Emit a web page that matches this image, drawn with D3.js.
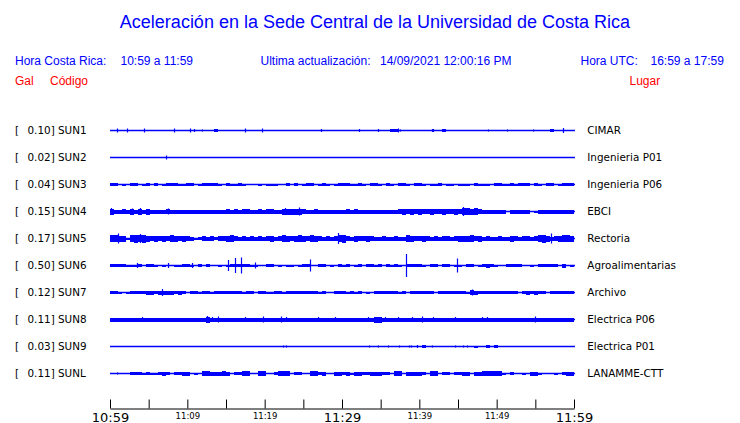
<!DOCTYPE html>
<html>
<head>
<meta charset="utf-8">
<script src="https://cdn.jsdelivr.net/npm/d3@7"></script>
<style>
  html, body { margin: 0; padding: 0; background: #fff; }
  svg { display: block; }
</style>
</head>
<body>
<svg id="grafica" width="740" height="423"></svg>
<script>
// Estaciones
const codigos = ["SUN1", "SUN2", "SUN3", "SUN4", "SUN5", "SUN6", "SUN7", "SUN8", "SUN9", "SUNL"];
const lugares = ["CIMAR", "Ingenieria P01", "Ingenieria P06", "EBCI", "Rectoria", "Agroalimentarias",
                 "Archivo", "Electrica P06", "Electrica P01", "LANAMME-CTT"];
const gal = ["0.10", "0.02", "0.04", "0.15", "0.17", "0.50", "0.12", "0.11", "0.03", "0.11"];
const etiquetasTiempo = ["10:59", "11:09", "11:19", "11:29", "11:39", "11:49", "11:59"];
const minutosMarca = [0, 5, 10, 15, 20, 25, 30, 35, 40, 45, 50, 55, 60];

// envolvente de cada traza (amplitud pico a pico, 116 muestras en 60 min)
const envSUN1 = [0,0,0,0,0,0,0,0,0,0, 0,0,0,0,0,0,0,0,0,0, 0,0,0,0,0,0,3,0,0,0, 0,0,0,0,0,0,0,0,0,0,
  0,0,0,0,0,0,0,0,0,0, 0,0,0,0,0,0,0,0,0,0, 0,0,0,0,0,0,0,0,0,0, 3,3,0,0,0,0,0,0,0,0,
  0,0,0,3,0,0,0,0,0,0, 0,0,0,0,0,0,0,0,0,0, 0,0,0,0,0,0,0,0,0,0, 3,0,0,0,0,0];
const envSUN2 = [0,0,0,0,0,0,0,0,0,0, 0,0,0,0,0,0,0,0,0,0, 0,0,0,0,0,0,0,0,0,0, 0,0,0,0,0,0,0,0,0,0,
  0,0,0,0,0,0,0,0,0,0, 0,0,0,0,0,0,0,0,0,0, 0,0,0,0,0,0,0,0,0,0, 0,0,0,0,0,0,0,0,0,0,
  0,0,0,0,0,0,0,0,0,0, 0,0,0,0,0,0,0,0,0,0, 0,0,0,0,0,0,0,0,0,0, 0,0,0,0,0,0];
const envSUN3 = [3,3,1,2,1,3,3,0,2,3, 0,3,0,2,3,3,3,2,2,3, 3,0,2,3,3,3,3,2,1,3, 2,2,3,2,0,0,0,2,0,2,
  2,2,0,0,3,0,3,0,2,3, 3,0,2,3,2,0,2,3,3,3, 2,2,3,2,0,3,3,2,0,3, 2,0,3,3,2,0,3,3,2,0,
  2,2,3,0,2,2,0,2,2,2, 0,3,2,2,2,0,3,3,2,2, 3,2,3,3,3,0,3,2,0,3, 3,0,2,3,3,3];
const envSUN4 = [6,4,4,5,4,6,4,6,4,6, 4,4,4,4,5,4,4,4,4,4, 4,4,4,4,4,4,4,4,4,5, 4,5,4,5,5,4,4,5,4,5,
  5,4,4,6,6,6,6,6,5,4, 4,5,4,4,4,4,4,4,4,5, 4,5,4,4,4,4,4,4,4,4, 4,4,5,6,5,6,5,6,5,5,
  6,5,5,6,5,5,6,5,7,7, 6,7,5,4,4,4,4,4,4,1, 4,4,4,4,4,1,2,4,4,4, 4,4,4,4,4,4];
const envSUN5 = [7,7,6,6,2,7,8,7,8,6, 5,6,5,6,5,7,6,5,6,5, 4,2,3,5,4,5,3,5,5,6, 7,5,4,5,4,5,4,5,4,5,
  6,4,5,7,6,5,6,7,6,5, 7,6,5,4,5,4,5,7,8,5, 4,6,5,5,6,5,4,4,5,4, 4,5,4,4,7,6,5,5,6,5,
  4,5,4,5,5,4,5,6,6,6, 7,5,6,4,5,4,4,5,4,4, 6,5,4,5,5,4,5,7,8,6, 4,5,6,7,7,6];
const envSUN6 = [3,3,3,3,2,2,2,3,0,3, 3,2,0,2,0,0,2,2,3,3, 2,0,3,0,3,0,0,2,0,2, 3,3,3,3,3,2,2,0,0,3,
  3,0,2,0,2,2,0,2,3,3, 0,0,3,3,0,2,0,3,2,3, 0,2,3,0,3,3,2,3,0,3, 2,3,2,0,3,3,3,3,2,0,
  3,3,0,3,3,0,2,2,0,3, 3,0,2,3,4,3,2,0,0,3, 3,3,3,0,0,2,0,3,3,3, 3,3,0,4,0,2];
const envSUN7 = [3,3,2,0,2,3,3,3,3,4, 4,3,4,4,4,4,3,4,3,0, 3,3,2,3,3,2,3,3,3,3, 3,3,3,2,3,3,0,3,3,2,
  2,3,3,2,3,3,3,3,3,3, 3,3,2,3,0,0,3,3,3,2, 3,2,3,0,2,0,3,3,3,3, 3,3,2,3,0,3,3,3,3,3,
  3,0,3,3,3,3,3,3,3,2, 5,4,3,3,3,3,3,3,3,3, 3,3,0,3,4,3,4,3,3,0, 3,3,3,3,3,3];
const envSUN8 = [4,4,4,4,4,4,4,4,4,4, 4,4,4,4,4,4,4,4,4,4, 4,4,4,4,6,4,4,4,4,4, 4,4,4,4,4,4,4,4,4,4,
  4,4,4,4,4,4,4,4,4,4, 4,4,4,4,4,4,4,4,4,4, 4,4,4,4,4,4,6,6,4,4, 4,4,4,4,4,4,4,4,4,4,
  4,4,4,4,4,4,4,4,4,4, 4,4,4,4,4,4,4,4,4,4, 4,4,4,4,4,4,4,4,4,4, 4,4,4,4,4,4];
const envSUN9 = [0,0,0,0,0,0,0,0,0,0, 0,0,0,0,0,0,0,0,0,0, 0,0,0,0,0,0,0,0,0,0, 0,0,0,0,0,0,0,0,0,0,
  0,0,0,0,0,0,0,0,0,0, 0,0,0,0,0,0,0,0,0,0, 0,0,0,0,0,0,0,0,0,0, 0,0,0,0,0,0,0,0,3,0,
  0,0,0,0,0,0,0,0,0,0, 0,2,0,0,3,0,3,0,0,0, 0,0,0,0,0,0,0,0,0,0, 0,0,0,0,0,0];
const envSUNL = [0,0,0,0,0,3,3,3,2,3, 2,2,3,4,3,0,3,3,4,4, 0,2,0,5,5,4,4,4,5,4, 0,3,3,5,5,0,0,5,5,0,
  0,3,5,5,5,0,3,3,0,0, 5,5,3,4,0,0,4,4,3,4, 2,4,4,3,3,4,4,4,3,3, 0,5,5,0,4,4,4,4,3,0,
  5,5,0,3,3,0,3,3,4,4, 0,4,4,5,5,5,5,5,2,0, 3,0,0,2,0,4,4,2,0,0, 0,2,0,3,4,4];

// picos aislados: [minuto, amplitud]
const picosSUN1 = [[0.9,4],[2.2,4],[4.4,4],[8.3,4],[10.4,4],[10.8,3],[11.9,2],[17.4,4],[19.7,4],[27.3,3],
  [32.2,3],[34.7,3],[37.2,4],[37.5,2],[41.6,3],[41.8,3],[48.9,2],[51.4,2],[54.7,2],[58.6,5]];
const picosSUN2 = [[7.3,4]];
const picosSUN3 = [];
const picosSUN4 = [[0.1,7],[2.9,6],[3.9,7],[7.5,6],[22.6,7],[24.4,8],[45.7,9]];
const picosSUN5 = [[1.0,10],[3.9,9],[29.5,11],[57.0,10]];
const picosSUN6 = [[3.5,5],[7.5,5],[10.6,5],[15.3,11],[16.1,15],[16.9,16],[18.7,6],[25.9,12],[38.3,23],[44.9,14]];
const picosSUN7 = [[6.7,7],[46.8,6]];
const picosSUN8 = [[4.1,5],[12.5,7],[13.2,5],[14.0,6],[17.4,5],[19.8,6],[22.1,6],[22.8,5],[26.9,5],[29.1,5],
  [33.4,5],[35.6,5],[37.3,5],[39.0,5],[40.3,6],[41.8,5],[44.6,5],[48.1,5],[48.8,5],[55.0,6]];
const picosSUN9 = [[22.4,2],[22.8,2],[33.5,2],[34.7,2],[35.9,2],[37.4,2],[38.6,2],[38.9,2],[39.7,3],
  [41.6,2],[44.6,2],[45.7,2],[46.1,2]];
const picosSUNL = [[0.9,2]];

const envolventes = [envSUN1, envSUN2, envSUN3, envSUN4, envSUN5, envSUN6, envSUN7, envSUN8, envSUN9, envSUNL];
const picos = [picosSUN1, picosSUN2, picosSUN3, picosSUN4, picosSUN5, picosSUN6, picosSUN7, picosSUN8, picosSUN9, picosSUNL];

const azul = "#0000ff";
const svg = d3.select("#grafica");

const x = d3.scaleLinear().domain([0, 60]).range([110, 574]);
const fila = d3.scalePoint().domain(codigos).range([130.5, 373.5]);
const amp = d3.scaleLinear().domain([0, 24]).range([0, 24]);
const paso = 60 / envSUN1.length;

// Titulo y encabezados
svg.append("text")
  .attr("x", 375).attr("y", 28)
  .attr("text-anchor", "middle")
  .attr("font-family", "Liberation Sans, Arial, sans-serif")
  .attr("font-size", 18)
  .attr("fill", azul)
  .text("Aceleración en la Sede Central de la Universidad de Costa Rica");

const encabezado = [
  ["Hora Costa Rica:", 15, 65, azul],
  ["10:59 a 11:59", 120.5, 65, azul],
  ["Ultima actualización:", 260.5, 65, azul],
  ["14/09/2021 12:00:16 PM", 380, 65, azul],
  ["Hora UTC:", 580.5, 65, azul],
  ["16:59 a 17:59", 650.5, 65, azul],
  ["Gal", 15, 84.5, "#ff0000"],
  ["Código", 50, 84.5, "#ff0000"],
  ["Lugar", 629.5, 84.5, "#ff0000"]
];
svg.selectAll("text.enc")
  .data(encabezado)
  .join("text")
  .attr("class", "enc")
  .attr("x", d => d[1]).attr("y", d => d[2])
  .attr("font-family", "Liberation Sans, Arial, sans-serif")
  .attr("font-size", 12)
  .attr("fill", d => d[3])
  .text(d => d[0]);

// Trazas
codigos.forEach((c, k) => {
  const g = svg.append("g").attr("transform", `translate(0,${fila(c)})`);

  g.append("line")
    .attr("x1", x(0)).attr("x2", x(60) + 1)
    .attr("y1", 0).attr("y2", 0)
    .attr("stroke", azul).attr("stroke-width", 1.3);

  g.selectAll("rect")
    .data(envolventes[k].map((v, i) => ({ v, i })).filter(d => d.v > 0))
    .join("rect")
    .attr("x", d => x(d.i * paso))
    .attr("width", x(paso) - x(0))
    .attr("y", d => -amp(d.v) / 2)
    .attr("height", d => amp(d.v))
    .attr("fill", azul)
    .attr("shape-rendering", "crispEdges");

  g.selectAll("line.pico")
    .data(picos[k])
    .join("line")
    .attr("class", "pico")
    .attr("x1", d => Math.round(x(d[0])) + 0.5).attr("x2", d => Math.round(x(d[0])) + 0.5)
    .attr("y1", d => -amp(d[1]) / 2).attr("y2", d => amp(d[1]) / 2)
    .attr("stroke", azul).attr("stroke-width", 1.2);

  // etiquetas izquierda y derecha
  g.append("text")
    .attr("x", 15).attr("y", 3.7)
    .attr("font-family", "DejaVu Sans, sans-serif").attr("font-size", 10.4)
    .text("[");
  g.append("text")
    .attr("x", 27.5).attr("y", 3.7)
    .attr("font-family", "DejaVu Sans, sans-serif").attr("font-size", 10.4)
    .text(`${gal[k]}] ${c}`);
  g.append("text")
    .attr("x", 587.3).attr("y", 3.7)
    .attr("font-family", "DejaVu Sans, sans-serif").attr("font-size", 10.4)
    .text(lugares[k]);
});

// Eje de tiempo
const grandes = [0, 30, 60];
const eje = d3.axisBottom(x)
  .tickValues(minutosMarca)
  .tickSize(-9)
  .tickSizeOuter(0)
  .tickFormat(m => m % 10 === 0 ? etiquetasTiempo[m / 10] : "");

const gEje = svg.append("g")
  .attr("transform", "translate(0,408.5)")
  .call(eje);

gEje.select(".domain").attr("stroke", "#000");
gEje.selectAll(".tick line").attr("stroke", "#000");
gEje.selectAll(".tick text")
  .attr("fill", "#000")
  .attr("dy", 0)
  .attr("font-family", "DejaVu Sans, sans-serif")
  .attr("font-size", m => grandes.includes(m) ? 13 : 8.5)
  .attr("y", m => grandes.includes(m) ? 13 : 10.5);
</script>
</body>
</html>
